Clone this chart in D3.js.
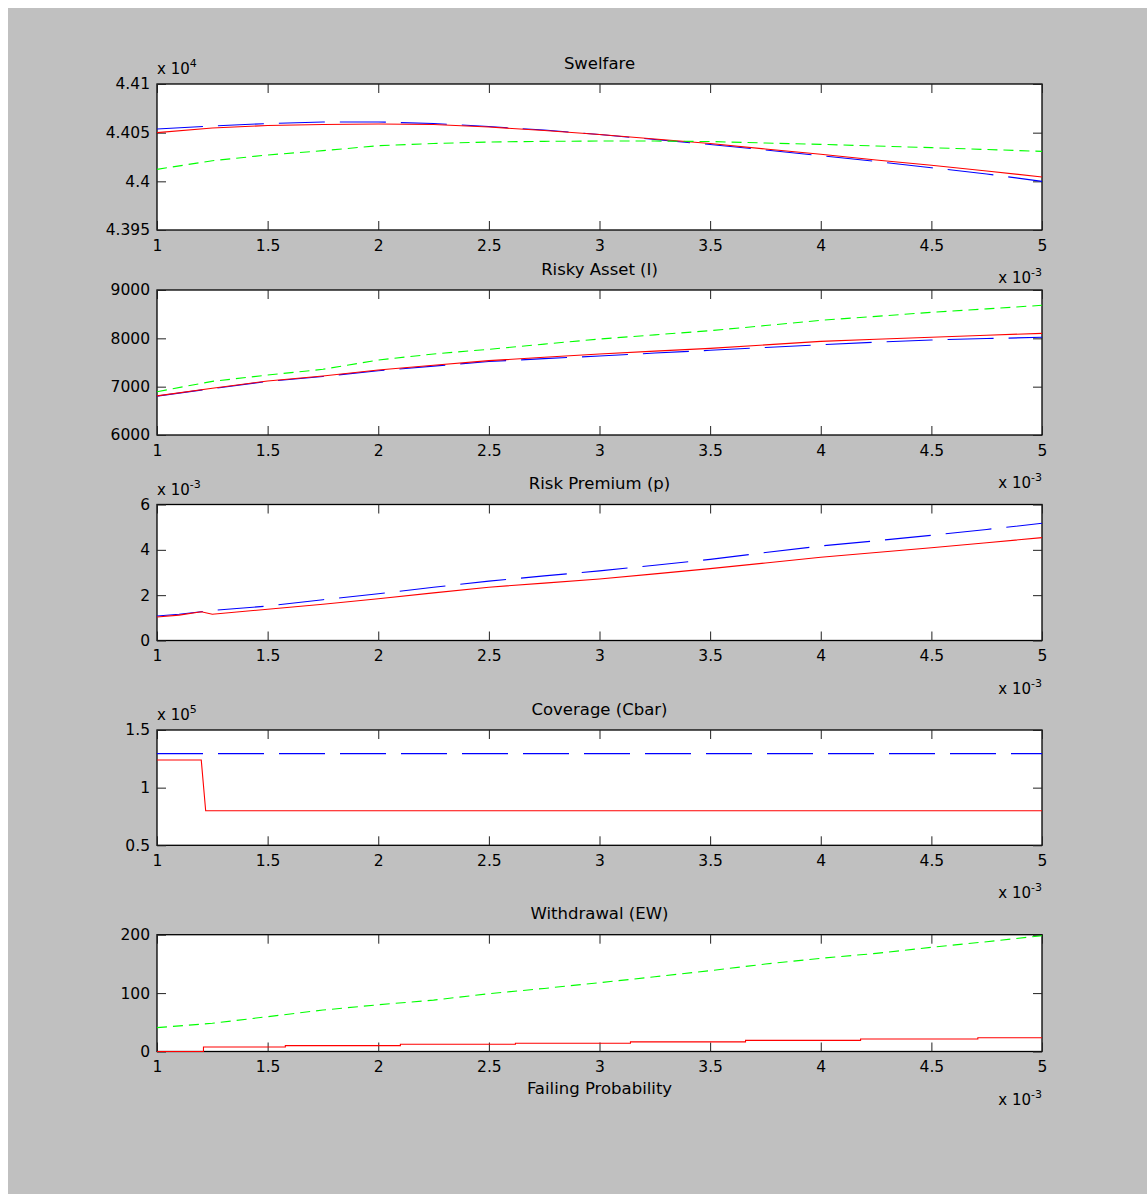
<!DOCTYPE html>
<html>
<head>
<meta charset="utf-8">
<script src="https://cdn.jsdelivr.net/npm/d3@7"></script>
<style>
  body { margin: 0; background: #fff; }
  svg text { font-family: "DejaVu Sans", sans-serif; fill: #000; }
</style>
</head>
<body>
<svg id="fig" width="1147" height="1194"></svg>
<script>

// failing probability grid (x 10^-3)
var failProb = [1, 1.25, 1.5, 1.75, 2, 2.25, 2.5, 2.75, 3, 3.25, 3.5, 3.75, 4, 4.25, 4.5, 4.75, 5];
var xTicks = [1, 1.5, 2, 2.5, 3, 3.5, 4, 4.5, 5];

// Swelfare (x 10^4)
var welfareBlue  = [4.40538, 4.40568, 4.40594, 4.40610, 4.40610, 4.40594, 4.40563, 4.40527, 4.40481, 4.40430, 4.40378, 4.40322, 4.40263, 4.40204, 4.40140, 4.40075, 4.40000];
var welfareRed   = [4.40500, 4.40548, 4.40574, 4.40584, 4.40589, 4.40584, 4.40558, 4.40522, 4.40481, 4.40435, 4.40389, 4.40332, 4.40278, 4.40219, 4.40165, 4.40106, 4.40045];
var welfareGreen = [4.40123, 4.40212, 4.40271, 4.40315, 4.40366, 4.40389, 4.40404, 4.40411, 4.40414, 4.40414, 4.40409, 4.40394, 4.40380, 4.40363, 4.40346, 4.40327, 4.40308];
var welfareTicks = [4.395, 4.4, 4.405, 4.41];

// Risky Asset (I)
var assetBlue  = [6805, 6960, 7110, 7210, 7330, 7425, 7520, 7580, 7634, 7695, 7752, 7810, 7869, 7920, 7966, 7995, 8021];
var assetRed   = [6810, 6966, 7117, 7221, 7345, 7442, 7538, 7610, 7676, 7735, 7793, 7865, 7938, 7980, 8021, 8065, 8103];
var assetGreen = [6896, 7110, 7241, 7359, 7552, 7676, 7773, 7880, 7986, 8072, 8158, 8265, 8373, 8455, 8538, 8610, 8683];
var assetTicks = [6000, 7000, 8000, 9000];

// Risk Premium (p) (x 10^-3)
var premiumProb = [1, 1.1, 1.2, 1.25, 1.5, 1.75, 2, 2.25, 2.5, 2.75, 3, 3.25, 3.5, 3.75, 4, 4.25, 4.5, 4.75, 5];
var premiumBlue = [1.08, 1.16, 1.27, 1.33, 1.52, 1.80, 2.06, 2.35, 2.62, 2.85, 3.07, 3.32, 3.58, 3.88, 4.17, 4.40, 4.64, 4.90, 5.17];
var premiumRed  = [1.04, 1.12, 1.27, 1.16, 1.38, 1.60, 1.84, 2.10, 2.35, 2.53, 2.71, 2.94, 3.17, 3.42, 3.67, 3.88, 4.09, 4.31, 4.54];
var premiumTicks = [0, 2, 4, 6];

// Coverage (Cbar) (x 10^5)
var coverageProb = [1, 1.2, 1.22, 5];
var coverageBlue = [1.295, 1.295, 1.295, 1.295];
var coverageRed  = [1.24, 1.24, 0.80, 0.80];
var coverageTicks = [0.5, 1, 1.5];

// Withdrawal (EW)
var withdrawGreen = [40.8, 48.3, 59.6, 71, 80, 88, 99, 108, 117.8, 128, 138.4, 149.8, 159.6, 168, 178.4, 188, 198.3];
var withdrawStepProb = [1, 1.2, 1.21, 1.58, 2.1, 2.62, 3.14, 3.66, 4.18, 4.71, 5];
var withdrawRed = [0, 0, 7.7, 10, 12.3, 14, 16.5, 19, 21.4, 23.6, 23.6];
var withdrawTicks = [0, 100, 200];

var vars = {
  left: 157,
  right: 1042,
  tick: 9,
  blue: '#0000ff',
  red: '#ff0000',
  green: '#00ff00',
  blueDash: '46,15',
  greenDash: '10,6'
};

var svg = d3.select('#fig');

svg.append('rect')
    .attr('x', 8).attr('y', 8)
    .attr('width', 1139).attr('height', 1186)
    .attr('fill', '#c0c0c0');

var x = d3.scaleLinear().domain([1, 5]).range([vars.left, vars.right]);

function trim(d) { return String(+d.toFixed(3)); }

function expLabel(px, py, anchor, exp) {
  var t = svg.append('text')
      .attr('x', px).attr('y', py)
      .attr('text-anchor', anchor)
      .style('font-size', '15px');
  t.append('tspan').text('x 10');
  t.append('tspan').attr('dy', -7).style('font-size', '11px').text(exp);
}

function panel(p) {
  var y = d3.scaleLinear().domain(p.domain).range([p.bottom, p.top]);
  var g = svg.append('g');

  // white plot area with box
  g.append('rect')
      .attr('x', vars.left).attr('y', p.top)
      .attr('width', vars.right - vars.left).attr('height', p.bottom - p.top)
      .attr('fill', '#fff')
      .attr('stroke', '#000')
      .attr('stroke-width', 1.3);

  var axes = [
    [d3.axisBottom(x).tickValues(xTicks).tickSize(-vars.tick).tickPadding(9.5).tickFormat(trim), 'translate(0,' + p.bottom + ')'],
    [d3.axisTop(x).tickValues(xTicks).tickSize(-vars.tick).tickFormat(''), 'translate(0,' + p.top + ')'],
    [d3.axisLeft(y).tickValues(p.ticks).tickSize(-vars.tick).tickPadding(7).tickFormat(trim), 'translate(' + vars.left + ',0)'],
    [d3.axisRight(y).tickValues(p.ticks).tickSize(-vars.tick).tickFormat(''), 'translate(' + vars.right + ',0)']
  ];
  axes.forEach(function(a) {
    var ax = g.append('g').attr('transform', a[1]).call(a[0]);
    ax.select('.domain').remove();
    ax.selectAll('line').attr('stroke', '#222');
    ax.selectAll('text')
        .style('font-size', '15.5px')
        .style('font-family', '"DejaVu Sans", sans-serif')
        .attr('fill', '#000');
  });

  // data lines sit on top of the axes, as in the original
  p.series.forEach(function(s) {
    var line = d3.line()
        .x(function(d) { return x(d[0]); })
        .y(function(d) { return y(d[1]); })
        .curve(s.curve || d3.curveLinear);
    g.append('path')
        .datum(d3.zip(s.x, s.y))
        .attr('d', line)
        .attr('fill', 'none')
        .attr('stroke', s.color)
        .attr('stroke-width', 1.1)
        .attr('stroke-dasharray', s.dash || null);
  });

  svg.append('text')
      .attr('x', (vars.left + vars.right) / 2)
      .attr('y', p.top - 15.5)
      .attr('text-anchor', 'middle')
      .style('font-size', '16.5px')
      .text(p.title);

  if (p.yExp) expLabel(vars.left, p.top - 10, 'start', p.yExp);
  expLabel(vars.right, p.bottom + 53, 'end', '-3');
}

panel({
  title: 'Swelfare', top: 84, bottom: 230,
  domain: [4.395, 4.41], ticks: welfareTicks, yExp: '4',
  series: [
    {x: failProb, y: welfareBlue, color: vars.blue, dash: vars.blueDash},
    {x: failProb, y: welfareRed, color: vars.red},
    {x: failProb, y: welfareGreen, color: vars.green, dash: vars.greenDash}
  ]
});

panel({
  title: 'Risky Asset (I)', top: 290, bottom: 435,
  domain: [6000, 9000], ticks: assetTicks,
  series: [
    {x: failProb, y: assetBlue, color: vars.blue, dash: vars.blueDash},
    {x: failProb, y: assetRed, color: vars.red},
    {x: failProb, y: assetGreen, color: vars.green, dash: vars.greenDash}
  ]
});

panel({
  title: 'Risk Premium (p)', top: 504.5, bottom: 640.5,
  domain: [0, 6], ticks: premiumTicks, yExp: '-3',
  series: [
    {x: premiumProb, y: premiumBlue, color: vars.blue, dash: vars.blueDash},
    {x: premiumProb, y: premiumRed, color: vars.red}
  ]
});

panel({
  title: 'Coverage (Cbar)', top: 730, bottom: 845.3,
  domain: [0.5, 1.5], ticks: coverageTicks, yExp: '5',
  series: [
    {x: coverageProb, y: coverageBlue, color: vars.blue, dash: vars.blueDash},
    {x: coverageProb, y: coverageRed, color: vars.red}
  ]
});

panel({
  title: 'Withdrawal (EW)', top: 934.7, bottom: 1051.5,
  domain: [0, 200], ticks: withdrawTicks,
  series: [
    {x: withdrawStepProb, y: withdrawRed, color: vars.red, curve: d3.curveStepAfter},
    {x: failProb, y: withdrawGreen, color: vars.green, dash: vars.greenDash}
  ]
});

svg.append('text')
    .attr('x', (vars.left + vars.right) / 2)
    .attr('y', 1094)
    .attr('text-anchor', 'middle')
    .style('font-size', '16.5px')
    .text('Failing Probability');

</script>
</body>
</html>
